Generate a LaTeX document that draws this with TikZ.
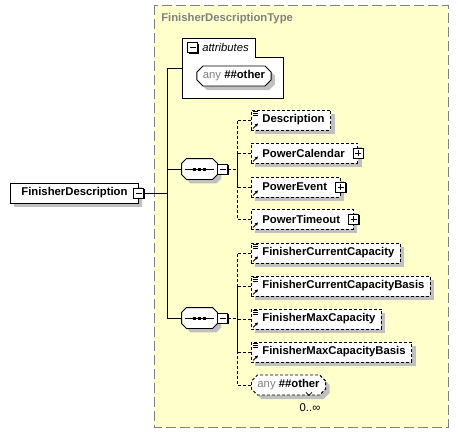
\documentclass[tikz,border=0pt]{standalone}
\usepackage{fontspec}
\setmainfont{Liberation Sans}
\usepackage{xcolor}
\usetikzlibrary{arrows.meta,positioning,calc,shapes.misc,shadows}

\definecolor{typefill}{RGB}{255,255,204}
\definecolor{typeline}{RGB}{128,128,128}
\definecolor{shadowgray}{RGB}{192,192,192}

\tikzset{
  sh/.style={drop shadow={shadow xshift=4pt, shadow yshift=-4pt, fill=shadowgray, opacity=1}},
  dotline/.style={dash pattern=on 3pt off 2pt},
  elem/.style={draw, dotline, fill=white, sh, anchor=west, minimum height=20pt,
    inner ysep=0pt, inner xsep=6pt, execute at begin node={\hspace*{5pt}}},
  elemplus/.style={elem, execute at end node={\hspace*{7pt}}},
  togglebox/.style={draw, fill=white, minimum size=10pt, inner sep=0pt,
    drop shadow={shadow xshift=1pt, shadow yshift=-1pt, fill=black, opacity=1}},
  minusbox/.style={togglebox, path picture={
    \draw ($(path picture bounding box.west)+(2pt,0)$) -- ($(path picture bounding box.east)+(-2pt,0)$);}},
  plusbox/.style={togglebox, path picture={
    \draw ($(path picture bounding box.west)+(2pt,0)$) -- ($(path picture bounding box.east)+(-2pt,0)$);
    \draw ($(path picture bounding box.north)+(0,-2pt)$) -- ($(path picture bounding box.south)+(0,2pt)$);}},
  seqbox/.style={minimum width=35pt, minimum height=20pt, inner sep=0pt},
  anybox/.style={draw, fill=white, sh, chamfered rectangle, chamfered rectangle xsep=3pt,
    chamfered rectangle ysep=3pt, minimum height=20pt, inner xsep=3pt, inner ysep=0pt},
}

\newcommand{\anytext}{\textcolor{typeline}{\mdseries any}\ \#\#other}
% octagon of a sequence compositor, drawn round a seqbox node
\newcommand{\seqshape}[1]{%
  \draw[fill=white, sh] ($(#1.north west)+(5,0)$) -- ($(#1.north east)+(-5,0)$)
    -- ($(#1.north east)+(0,5)$) -- ($(#1.south east)+(0,-5)$)
    -- ($(#1.south east)+(-5,0)$) -- ($(#1.south west)+(5,0)$)
    -- ($(#1.south west)+(0,-5)$) -- ($(#1.north west)+(0,5)$) -- cycle;
  \draw ($(#1.west)+(3,0)$) -- ($(#1.east)+(-3,0)$);
  \foreach \d in {-5,0,5}
    \fill ($(#1.center)+(\d,0)$) +(-1.5,-1.5) rectangle +(1.5,1.5);}

\begin{document}
\begin{tikzpicture}[x=1pt, y=-1pt, line width=0.9pt,
  every node/.style={font=\fontsize{11.3}{13.5}\selectfont\bfseries}]
\useasboundingbox (0,0) rectangle (459,432);

% complex type frame
\draw[typeline, fill=typefill, dash pattern=on 10pt off 4pt] (154,5) rectangle (448,427);
\node[anchor=west, text=typeline] (typename) at (157.5,19) {FinisherDescriptionType};

% attributes block
\draw[fill=white] (182,38) -- (255,38) -- (255,57) -- (283,57) -- (283,98) -- (182,98) -- cycle;
\node[minusbox] (attrx) at (192.5,47.5) {};
\node[anchor=west, font=\fontsize{11.3}{13.5}\selectfont\itshape] (attrlbl) at (198.5,47.5) {attributes};
\node[anybox] (attrany) at (234,76) {\anytext};
\coordinate (attrin) at (182,68);

% root element
\node[draw, fill=white, sh, anchor=west, minimum width=128pt, minimum height=20pt, inner ysep=0pt] (fd) at (10,193) {FinisherDescription};
\node[minusbox] (fdx) at (fd.east) {};
\coordinate (trunk) at (167,193);

% sequences
\node[seqbox] (seq1) at (199.5,169) {};
\seqshape{seq1}
\node[minusbox, right=0pt of seq1] (seq1x) {};
\node[seqbox] (seq2) at (199.5,318) {};
\seqshape{seq2}
\node[minusbox, right=0pt of seq2] (seq2x) {};
\coordinate (br1) at (237,169);
\coordinate (br2) at (237,318);

% first sequence children
\node[elem] (desc) at (251,120) {Description};
\node[elemplus] (pcal) at (251,153) {PowerCalendar};
\node[elemplus] (pevt) at (251,187) {PowerEvent};
\node[elemplus] (ptmo) at (251,219) {PowerTimeout};
\foreach \n in {pcal,pevt,ptmo}
  \node[plusbox] (\n x) at (\n.east) {};

% second sequence children
\node[elem] (fcc) at (251,253) {FinisherCurrentCapacity};
\node[elem] (fccb) at (251,286) {FinisherCurrentCapacityBasis};
\node[elem] (fmc) at (251,319) {FinisherMaxCapacity};
\node[elem] (fmcb) at (251,352) {FinisherMaxCapacityBasis};
\node[anybox, dotline, anchor=west] (anyel) at (251,385) {\anytext};
\node[font=\fontsize{11.3}{13.5}\selectfont] (anymult) at (310,408) {0..∞};
\draw[line width=0.7pt] ($(anyel.south east)+(-17,0)$) -- +(3,3) -- +(6,0);

% icons
\foreach \n in {desc,fcc,fccb,fmc,fmcb}
  \foreach \k in {2,4,6}
    \draw[line width=0.6pt] ($(\n.north west)+(2,\k)$) -- +(5,0);
\foreach \n in {desc,pcal,pevt,ptmo,fcc,fccb,fmc,fmcb}
  \draw[line width=0.8pt, -{Triangle[length=3pt,width=3pt]}] ($(\n.south west)+(2,-2)$) -- +(5,-5);

% connectors
\draw (fdx.east) -- (trunk);
\draw (attrin) -| (trunk);
\draw (seq1.west) -| (trunk);
\draw (seq2.west) -| (trunk);
\draw[dotline] (seq1x.east) -- (br1);
\foreach \n in {desc,pcal,pevt,ptmo}
  \draw[dotline] (\n.west) -| (br1);
\draw[dotline] (seq2x.east) -- (br2);
\foreach \n in {fcc,fccb,fmc,fmcb,anyel}
  \draw[dotline] (\n.west) -| (br2);
\end{tikzpicture}
\end{document}
